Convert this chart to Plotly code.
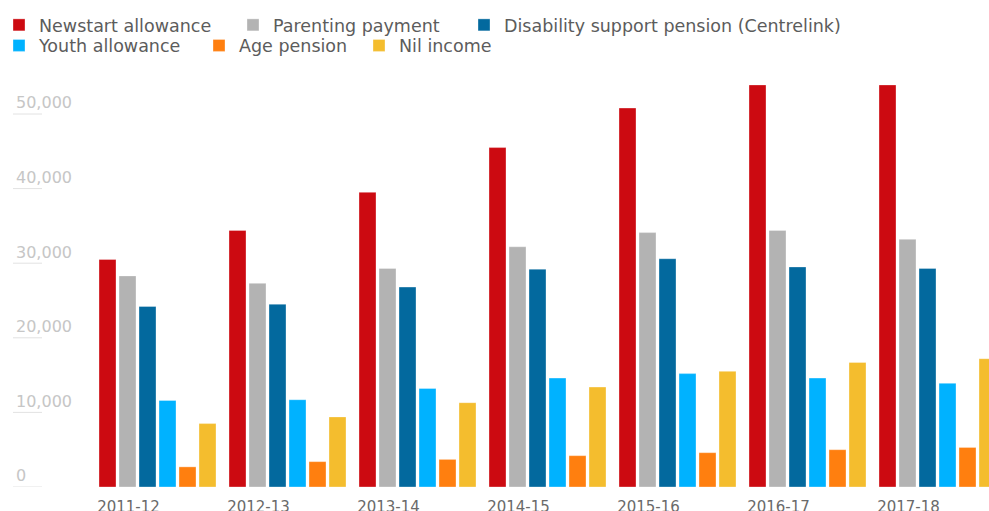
import plotly.graph_objects as go

years = ["2011-12", "2012-13", "2013-14", "2014-15", "2015-16", "2016-17", "2017-18"]
newstart = [30500, 34400, 39500, 45500, 50800, 53900, 53900]
parenting = [28300, 27300, 29300, 32200, 34100, 34400, 33200]
disability = [24200, 24500, 26800, 29200, 30600, 29500, 29300]
youth = [11600, 11700, 13200, 14600, 15200, 14600, 13900]
age = [2700, 3400, 3700, 4200, 4600, 5000, 5300]
nil = [8500, 9400, 11300, 13400, 15500, 16700, 17200]

series_names = ["Newstart allowance", "Parenting payment", "Disability support pension (Centrelink)",
                "Youth allowance", "Age pension", "Nil income"]
series_values = [newstart, parenting, disability, youth, age, nil]
colors = ["#cc0a11", "#b3b3b3", "#03699e", "#00b2ff", "#ff7f0f", "#f4bd2e"]

y_ticks = [0, 10000, 20000, 30000, 40000, 50000]
y_ticktext = ["0", "10,000", "20,000", "30,000", "40,000", "50,000"]

W, H = 989, 511
ml, mr, mt, mb = 13, 0, 70, 24
pw = W - ml - mr
ph = H - mt - mb

# legend entry placement (left edge of each swatch in page pixels, row centre)
legend_x = [13, 247, 478, 13, 213, 373]
legend_y = [25, 25, 25, 45.5, 45.5, 45.5]

fig = go.Figure()
legend_layout = {}
for i, (name, vals, col) in enumerate(zip(series_names, series_values, colors)):
    lid = "legend" if i == 0 else f"legend{i + 1}"
    fig.add_trace(go.Bar(
        x=years, y=vals, name=name, legend=lid, showlegend=True,
        marker=dict(color=col, line=dict(width=0.6, color="rgba(255,255,255,0.55)")),
    ))
    legend_layout[lid] = dict(
        orientation="h", xanchor="left", yanchor="middle",
        x=(legend_x[i] - 14 - ml) / pw, y=1 + (mt - legend_y[i]) / ph,
        font=dict(size=17.5, color="#5c5c5c"), itemwidth=30,
        bgcolor="rgba(0,0,0,0)", visible=True,
    )

# short light underlines beneath the y tick labels
shapes = []
for v in y_ticks:
    shapes.append(dict(type="line", xref="paper", yref="y", x0=0, x1=29 / pw, y0=v, y1=v,
                       line=dict(color="#e2e2e2", width=1), layer="above"))

px_per_10k = 74.6
ymax = ph / px_per_10k * 10000
x0 = (0 - (157.5 - ml)) / 130
x1 = x0 + pw / 130

fig.update_layout(
    width=W, height=H, showlegend=True,
    margin=dict(l=ml, r=mr, t=mt, b=mb, autoexpand=False),
    paper_bgcolor="white", plot_bgcolor="white",
    barmode="group", bargap=10 / 130, bargroupgap=0.15,
    font=dict(family="DejaVu Sans", color="#5a5a5a"),
    xaxis=dict(type="category", range=[x0, x1], showgrid=False, showline=False, zeroline=False, ticks="",
               tickfont=dict(size=15, color="#6a6a6a"), ticklabelshift=-29, ticklabelstandoff=9),
    yaxis=dict(range=[0, ymax], tickvals=y_ticks, ticktext=y_ticktext,
               ticklabelposition="inside top", tickfont=dict(size=16, color="#c6c6c6"),
               showgrid=True, gridcolor="rgba(255,255,255,0.45)", gridwidth=1,
               layer="above traces", zeroline=False, showline=False, ticks=""),
    shapes=shapes,
    **legend_layout,
)

fig.write_html("out.html", config={"displayModeBar": False},
               post_script="document.body.style.margin='0';document.body.style.overflow='hidden';")
